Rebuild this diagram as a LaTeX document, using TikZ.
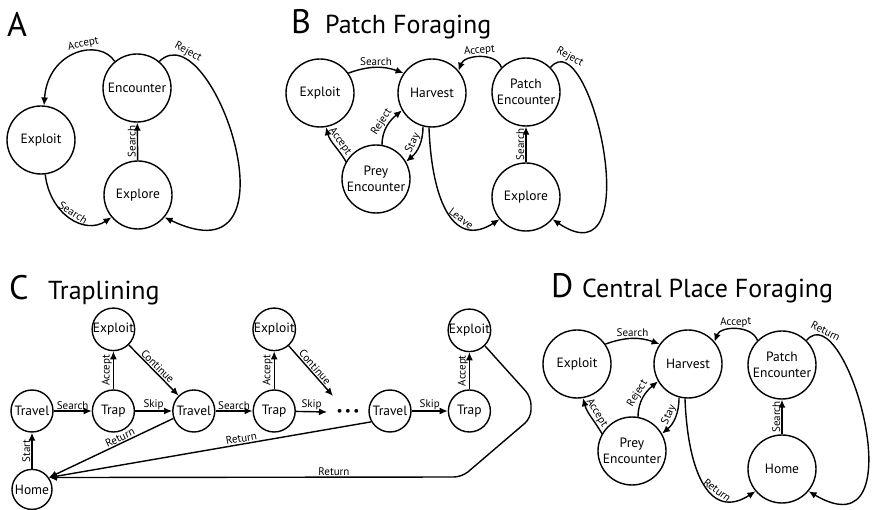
\documentclass[tikz,border=0pt]{standalone}
\usepackage{fontspec}
\setmainfont{PT Sans}
\usepackage{tikz}
\usetikzlibrary{arrows.meta, positioning}
\newcommand{\tagsize}{\fontsize{34}{34}\selectfont}
\newcommand{\titlesize}{\fontsize{26}{26}\selectfont}
\newcommand{\statesize}{\fontsize{13.5}{16.5}\selectfont}
\newcommand{\labelsize}{\fontsize{11}{12}\selectfont}

\begin{document}
\begin{tikzpicture}[
    x=1pt, y=-1pt,
    every node/.style={font=\statesize},
    state/.style={circle, draw, line width=1.4pt, minimum size=68pt, inner sep=0pt, align=center},
    smallstate/.style={state, minimum size=42pt},
    arrow/.style={-{Latex[length=8pt, width=7pt]}, line width=1.4pt},
    elabel/.style={sloped, above, inner sep=1pt, font=\labelsize},
    vlabel/.style={rotate=90, above, inner sep=1pt, font=\labelsize},
    paneltag/.style={anchor=base west, inner sep=0pt, font=\tagsize},
    paneltitle/.style={anchor=base west, inner sep=0pt, font=\titlesize}
]
\useasboundingbox (0,0) rectangle (876,510);

% panel A
\node[paneltag] (tagA) at (7,37) {A};
\node[state] (encA) at (137,88) {Encounter};
\node[state] (expA) at (41,140) {Exploit};
\node[state] (explA) at (138,195) {Explore};

\draw[arrow] (encA.130) .. controls (100,38) and (48,50) .. node[elabel, pos=0.4] {Accept} (expA.85);
\draw[arrow] (encA.50) .. controls (212,10) and (305,285) .. node[elabel, pos=0.15] {Reject} (explA.-40);
\draw[arrow] (explA) -- node[vlabel] {Search} (encA);
\draw[arrow] (expA.-83) .. controls (50,215) and (85,235) .. node[elabel] {Search} (explA.-140);

% panel B
\node[paneltag] (tagB) at (291,34) {B};
\node[paneltitle] (titleB) at (325,34) {Patch Foraging};
\node[state] (exB) at (320,93) {Exploit};
\node[state] (hvB) at (432,93) {Harvest};
\node[state] (peB) at (526,92) {Patch\\Encounter};
\node[state] (preyB) at (376,179) {Prey\\Encounter};
\node[state] (exlB) at (526,197) {Explore};

\draw[arrow] (exB.35) to[bend left=20] node[elabel] {Search} (hvB.145);
\draw[arrow] (preyB.80) to[out=90, in=220] node[elabel] {Reject} (hvB.210);
\draw[arrow] (hvB.-105) to[out=-90, in=40] node[elabel] {Stay} (preyB.30);
\draw[arrow] (preyB.150) to[out=120, in=-75] node[elabel] {Accept} (exB.-80);
\draw[arrow] (hvB.-95) .. controls (432,205) and (455,248) .. node[elabel, pos=0.62] {Leave} (exlB.-140);
\draw[arrow] (peB.135) to[out=110, in=70] node[elabel] {Accept} (hvB.40);
\draw[arrow] (exlB) -- node[vlabel] {Search} (peB);
\draw[arrow] (peB.45) .. controls (590,20) and (650,285) .. node[elabel, pos=0.13] {Reject} (exlB.-40);

% panel C
\node[paneltag] (tagC) at (9,300) {C};
\node[paneltitle] (titleC) at (48,300) {Traplining};
\node[smallstate] (trv1) at (32,411) {Travel};
\node[smallstate, right=38pt of trv1] (trap1) {Trap};
\node[smallstate, above=38pt of trap1] (ex1) {Exploit};
\node[smallstate, right=37pt of trap1] (trv2) {Travel};
\node[smallstate, right=37pt of trv2] (trap2) {Trap};
\node[smallstate, above=38pt of trap2] (ex2) {Exploit};
\coordinate (cont2) at (333,396);
\coordinate (skip2) at (327,412);
\node (dots) at (348,412) {\textbullet\,\textbullet\,\textbullet};
\node[smallstate] (trv3) at (390,411) {Travel};
\node[smallstate, right=36pt of trv3] (trap3) {Trap};
\node[smallstate, above=37pt of trap3] (ex3) {Exploit};
\node[smallstate, minimum size=40pt, below=36pt of trv1] (home) {Home};

\draw[arrow] (home) -- node[vlabel] {Start} (trv1);
\draw[arrow] (trv1) -- node[elabel] {Search} (trap1);
\draw[arrow] (trap1) -- node[vlabel] {Accept} (ex1);
\draw[arrow] (ex1) -- node[elabel] {Continue} (trv2);
\draw[arrow] (trap1) -- node[elabel] {Skip} (trv2);
\draw[arrow] (trv2) -- node[elabel] {Search} (trap2);
\draw[arrow] (trap2) -- node[vlabel] {Accept} (ex2);
\draw[arrow] (ex2) -- node[elabel] {Continue} (cont2);
\draw[arrow] (trap2) -- node[elabel] {Skip} (skip2);
\draw[arrow] (trv3) -- node[elabel] {Skip} (trap3);
\draw[arrow] (trap3) -- node[vlabel] {Accept} (ex3);
\draw[arrow] (trv2.200) -- node[elabel, pos=0.41] {Return} (home.35);
\draw[arrow] (trv3.210) -- node[elabel, pos=0.4] {Return} (home.35);
\draw[arrow, rounded corners=8pt] (ex3.-45) -- (531,397) -- (531,418) -- (462,477)
    -- node[above, inner sep=1pt, font=\labelsize, pos=0.31] {Return} (home.35);

% panel D
\node[paneltag] (tagD) at (551,298) {D};
\node[paneltitle] (titleD) at (582,298) {Central Place Foraging};
\node[state] (exD) at (577,364) {Exploit};
\node[state] (hvD) at (688,364) {Harvest};
\node[state] (peD) at (782,365) {Patch\\Encounter};
\node[state] (preyD) at (632,451) {Prey\\Encounter};
\node[state] (homeD) at (782,469) {Home};

\draw[arrow] (exD.35) to[bend left=20] node[elabel] {Search} (hvD.145);
\draw[arrow] (preyD.80) to[out=90, in=220] node[elabel] {Reject} (hvD.210);
\draw[arrow] (hvD.-105) to[out=-90, in=40] node[elabel] {Stay} (preyD.30);
\draw[arrow] (preyD.150) to[out=120, in=-75] node[elabel] {Accept} (exD.-80);
\draw[arrow] (hvD.-95) .. controls (688,476) and (711,520) .. node[elabel, pos=0.62] {Return} (homeD.-140);
\draw[arrow] (peD.135) to[out=110, in=70] node[elabel] {Accept} (hvD.40);
\draw[arrow] (homeD) -- node[vlabel] {Search} (peD);
\draw[arrow] (peD.45) .. controls (846,293) and (920,557) .. node[elabel, pos=0.13] {Return} (homeD.-40);
\end{tikzpicture}
\end{document}
